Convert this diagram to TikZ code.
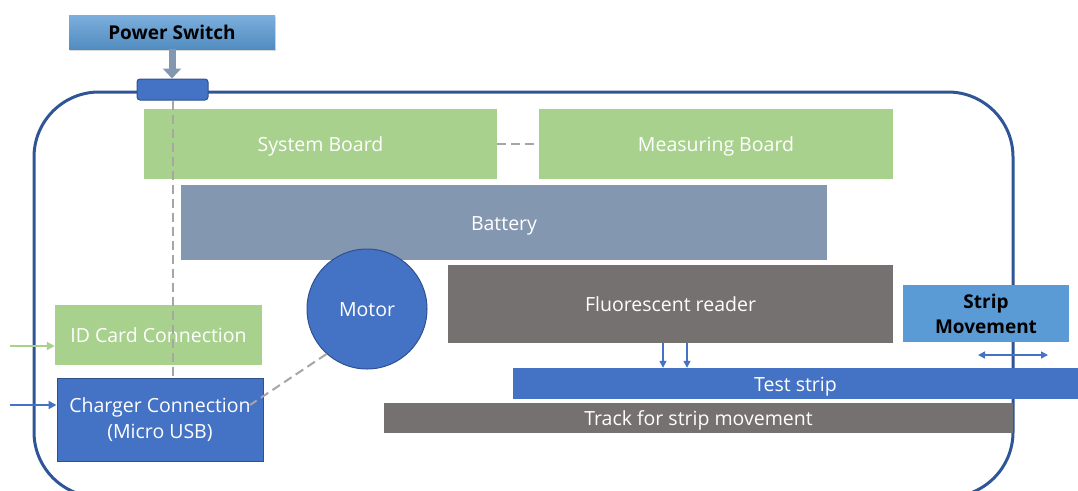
\documentclass[tikz,border=0pt]{standalone}
\usepackage{fontspec}
\setmainfont{Open Sans}
\usetikzlibrary{arrows.meta,shadows}
\definecolor{cgreen}{HTML}{A9D18E}
\definecolor{cbat}{HTML}{8497B0}
\definecolor{cgray}{HTML}{767171}
\definecolor{cblue}{HTML}{4472C4}
\definecolor{cblueb}{HTML}{2F528F}
\definecolor{clight}{HTML}{5B9BD5}
\definecolor{cout}{HTML}{2F5597}
\definecolor{cdash}{HTML}{A6A6A6}
\begin{document}
\begin{tikzpicture}[x=1pt,y=-1pt,
  box/.style={inner sep=0pt, align=center, text=white, font=\fontsize{19.5}{26}\selectfont},
  one/.style={text height=15pt, text depth=0pt},
  boldbox/.style={inner sep=0pt, align=center, text=black, font=\fontsize{19}{25}\selectfont\bfseries},
  dashcon/.style={draw=cdash, line width=2pt, dash pattern=on 9pt off 5pt},
  thinarr/.style={draw=cblue, line width=1.5pt, -{Triangle[width=7pt,length=7pt]}},
]
\useasboundingbox (0,0) rectangle (1078,490);
\clip (0,0) rectangle (1078,490);
% outer housing
\draw[cout, line width=3pt, rounded corners=65pt] (34,92) rectangle (1013,497);
% boxes
\node[box, one, fill=cgreen, minimum width=353pt, minimum height=70pt] (sys) at (320.5,144) {System Board};
\node[box, one, fill=cgreen, minimum width=354pt, minimum height=70pt] (meas) at (716,144) {Measuring Board};
\node[box, one, fill=cbat, minimum width=646pt, minimum height=75pt] (bat) at (504,222.5) {Battery};
\node[box, one, fill=cgray, minimum width=445pt, minimum height=78pt] (fr) at (670.5,304) {Fluorescent reader};
\node[boldbox, fill=clight, minimum width=166pt, minimum height=57pt] (sm) at (986,313.5) {Strip\\Movement};
\node[box, one, fill=cblue, minimum width=565pt, minimum height=31pt] (ts) at (795.5,383.5) {Test strip};
\node[box, one, fill=cgray, minimum width=629pt, minimum height=30pt] (track) at (698.5,418) {Track for strip movement};
\node[box, one, fill=cgreen, minimum width=207pt, minimum height=60pt] (id) at (158.5,335) {ID Card Connection};
\node[box, fill=cblue, draw=cblueb, line width=1pt, minimum width=206pt, minimum height=83pt] (ch) at (160,419.5) {Charger Connection\\(Micro USB)};
\node[box, one, circle, fill=cblue, draw=cblueb, line width=1pt, minimum size=120pt] (motor) at (367,309) {Motor};
% power switch
\node[boldbox, top color=clight!80!white, bottom color=clight!90!black, drop shadow={shadow xshift=1pt, shadow yshift=-2pt, opacity=0.3}, minimum width=206pt, minimum height=34pt] (ps) at (172,32) {Power Switch};
\node[draw=cblueb, fill=cblue, line width=1pt, rounded corners=3pt, minimum width=71pt, minimum height=21pt, inner sep=0pt] (sw) at (172.5,89.5) {};
\draw[cbat, line width=7pt, -{Triangle[width=18pt,length=10pt]}] (ps.south) -- (ps.south |- sw.north);
% dashed connectors
\draw[dashcon] (sw.south) -- (sw.south |- ch.north);
\draw[dashcon] (sys.east) -- (meas.west);
\coordinate (chin) at (250,405);
\draw[dashcon] (motor.228) -- (chin);
% reader arrows
\coordinate (a1) at (663,0);
\coordinate (a2) at (687,0);
\draw[thinarr] (fr.south -| a1) -- (ts.north -| a1);
\draw[thinarr] (fr.south -| a2) -- (ts.north -| a2);
% strip movement double arrow
\coordinate (d1) at (978,355);
\coordinate (d2) at (1048,355);
\draw[draw=cblue, line width=1.5pt, {Triangle[width=7pt,length=7pt]}-{Triangle[width=7pt,length=7pt]}] (d1) -- (d2);
% input arrows
\coordinate (idin) at (10,346);
\coordinate (chinL) at (10,405);
\draw[draw=cgreen, line width=2pt, -{Triangle[width=8pt,length=8pt]}] (idin) -- (idin -| id.west);
\draw[draw=cblue, line width=2pt, -{Triangle[width=8pt,length=8pt]}] (chinL) -- (chinL -| ch.west);
\end{tikzpicture}
\end{document}
